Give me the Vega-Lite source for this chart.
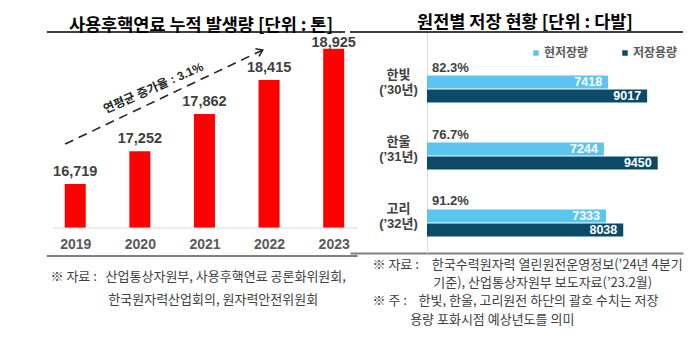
{
  "$schema": "https://vega.github.io/schema/vega-lite/v6.json",
  "autosize": {"type": "none"},
  "padding": {"left": 38, "top": 32, "right": 662, "bottom": 318},
  "bounds": "flush",
  "spacing": 0,
  "config": {
    "view": {"stroke": null},
    "font": "Liberation Sans, Noto Sans CJK KR"
  },
  "datasets": {
    "production": [
      {"year": 2019, "tons": 16719},
      {"year": 2020, "tons": 17252},
      {"year": 2021, "tons": 17862},
      {"year": 2022, "tons": 18415},
      {"year": 2023, "tons": 18925}
    ],
    "trend": [
      {"year": 2018.843, "v": 17371},
      {"year": 2021.902, "v": 18906}
    ],
    "trendHead": [
      {"year": 2021.902, "v": 18906}
    ],
    "trendLabel": [
      {"year": 2020.209, "v": 18286, "label": "연평균 증가율 : 3.1%"}
    ],
    "baseBand": [
      {"from": 2018.651, "to": 2023.37, "lo": 15992, "hi": 16008}
    ],
    "topBand": [
      {"from": 2018.561, "to": 2023.175, "lo": 19188, "hi": 19212}
    ],
    "bottomBand": [
      {"from": 2018.561, "to": 2023.37, "lo": 15527, "hi": 15559}
    ],
    "storage": [
      {"plant": "한빛|(’30년)", "series": "현저장량", "bundles": 7418},
      {"plant": "한빛|(’30년)", "series": "저장용량", "bundles": 9017},
      {"plant": "한울|(’31년)", "series": "현저장량", "bundles": 7244},
      {"plant": "한울|(’31년)", "series": "저장용량", "bundles": 9450},
      {"plant": "고리|(’32년)", "series": "현저장량", "bundles": 7333},
      {"plant": "고리|(’32년)", "series": "저장용량", "bundles": 8038}
    ],
    "ratio": [
      {"plant": "한빛|(’30년)", "ratio": "82.3%"},
      {"plant": "한울|(’31년)", "ratio": "76.7%"},
      {"plant": "고리|(’32년)", "ratio": "91.2%"}
    ],
    "rightTopBand": [
      {"from": -3154, "to": 10486, "lo": 0.9966, "hi": 1.0034}
    ]
  },
  "hconcat": [
    {
      "width": 312,
      "height": 196,
      "title": {
        "text": "사용후핵연료 누적 발생량 [단위 : 톤]",
        "font": "Noto Sans CJK KR",
        "fontSize": 17.5,
        "fontWeight": "bold",
        "color": "#000000",
        "anchor": "middle",
        "frame": "group",
        "dx": 7,
        "offset": -3
      },
      "layer": [
        {
          "data": {"name": "production"},
          "mark": {"type": "bar", "color": "#ff0000", "width": 21, "clip": false},
          "encoding": {
            "x": {
              "field": "year",
              "type": "quantitative",
              "scale": {"domain": [2018.501, 2023.175], "zero": false, "nice": false},
              "axis": {
                "orient": "bottom",
                "values": [2019, 2020, 2021, 2022, 2023],
                "format": "d",
                "labelAngle": 0,
                "labelFlush": false,
                "ticks": false,
                "domain": false,
                "grid": false,
                "labelFontSize": 14,
                "labelFontWeight": "bold",
                "labelColor": "#595959",
                "labelPadding": 9,
                "title": [
                  "※ 자료 :\u00a0\u00a0\u00a0산업통상자원부, 사용후핵연료 공론화위원회,",
                  "\u200b\u3000\u3000\u3000\u3000\u00a0\u00a0한국원자력산업회의, 원자력안전위원회"
                ],
                "titleFont": "Noto Sans CJK KR",
                "titleFontSize": 13,
                "titleFontWeight": "normal",
                "titleColor": "#404040",
                "titleAlign": "left",
                "titleAnchor": "start",
                "titleBaseline": "top",
                "titleX": 12,
                "titleY": 42,
                "titleLineHeight": 23,
                "titleLimit": 1000
              }
            },
            "y": {
              "field": "tons",
              "type": "quantitative",
              "scale": {"domain": [16000, 19200], "zero": false, "nice": false},
              "axis": null
            },
            "y2": {"datum": 16000}
          }
        },
        {
          "data": {"name": "production"},
          "transform": [{"filter": "datum.year < 2023"}],
          "mark": {"type": "text", "baseline": "alphabetic", "dy": -8, "fontSize": 14.5, "fontWeight": "bold", "color": "#404040", "clip": false},
          "encoding": {
            "x": {"field": "year", "type": "quantitative"},
            "y": {"field": "tons", "type": "quantitative", "axis": null},
            "text": {"field": "tons", "type": "quantitative", "format": ","}
          }
        },
        {
          "data": {"name": "production"},
          "transform": [{"filter": "datum.year == 2023"}],
          "mark": {"type": "text", "baseline": "alphabetic", "dy": -2, "fontSize": 14.5, "fontWeight": "bold", "color": "#404040", "clip": false},
          "encoding": {
            "x": {"field": "year", "type": "quantitative"},
            "y": {"field": "tons", "type": "quantitative", "axis": null},
            "text": {"field": "tons", "type": "quantitative", "format": ","}
          }
        },
        {
          "data": {"name": "baseBand"},
          "mark": {"type": "rect", "color": "#d9d9d9", "clip": false},
          "encoding": {
            "x": {"field": "from", "type": "quantitative"},
            "x2": {"field": "to"},
            "y": {"field": "lo", "type": "quantitative", "axis": null},
            "y2": {"field": "hi"}
          }
        },
        {
          "data": {"name": "topBand"},
          "mark": {"type": "rect", "color": "#000000", "clip": false},
          "encoding": {
            "x": {"field": "from", "type": "quantitative"},
            "x2": {"field": "to"},
            "y": {"field": "lo", "type": "quantitative", "axis": null},
            "y2": {"field": "hi"}
          }
        },
        {
          "data": {"name": "bottomBand"},
          "mark": {"type": "rect", "color": "#7f7f7f", "clip": false},
          "encoding": {
            "x": {"field": "from", "type": "quantitative"},
            "x2": {"field": "to"},
            "y": {"field": "lo", "type": "quantitative", "axis": null},
            "y2": {"field": "hi"}
          }
        },
        {
          "data": {"name": "trend"},
          "mark": {"type": "line", "color": "#262626", "strokeWidth": 1.6, "strokeDash": [9, 6], "clip": false},
          "encoding": {
            "x": {"field": "year", "type": "quantitative"},
            "y": {"field": "v", "type": "quantitative", "axis": null}
          }
        },
        {
          "data": {"name": "trendHead"},
          "mark": {"type": "point", "shape": "M-1,-0.7L0,0L-1,0.7", "filled": false, "stroke": "#262626", "strokeWidth": 1.6, "size": 150, "angle": 335.3, "opacity": 1, "clip": false},
          "encoding": {
            "x": {"field": "year", "type": "quantitative"},
            "y": {"field": "v", "type": "quantitative", "axis": null}
          }
        },
        {
          "data": {"name": "trendLabel"},
          "mark": {"type": "text", "angle": 336, "align": "center", "baseline": "middle", "fontSize": 12, "fontWeight": "bold", "color": "#262626", "clip": false},
          "encoding": {
            "x": {"field": "year", "type": "quantitative"},
            "y": {"field": "v", "type": "quantitative", "axis": null},
            "text": {"field": "label"}
          }
        }
      ]
    },
    {
      "width": 333,
      "height": 221,
      "title": {
        "text": "원전별 저장 현황 [단위 : 다발]",
        "font": "Noto Sans CJK KR",
        "fontSize": 17.5,
        "fontWeight": "bold",
        "color": "#000000",
        "anchor": "middle",
        "frame": "group",
        "dx": 8.5,
        "offset": 0
      },
      "resolve": {"scale": {"y": "independent"}},
      "layer": [
        {
          "layer": [
            {
              "data": {"name": "storage"},
              "mark": {"type": "bar", "clip": false},
              "encoding": {
                "y": {
                  "field": "plant",
                  "type": "nominal",
                  "scale": {
                    "domain": ["한빛|(’30년)", "한울|(’31년)", "고리|(’32년)"],
                    "paddingInner": 0.597,
                    "paddingOuter": 0.448,
                    "align": 0.725
                  },
                  "axis": {
                    "orient": "left",
                    "offset": -77,
                    "domainColor": "#d9d9d9",
                    "domainWidth": 1,
                    "ticks": false,
                    "grid": false,
                    "title": null,
                    "labelExpr": "split(datum.label, '|')",
                    "labelAlign": "center",
                    "labelBaseline": "middle",
                    "labelPadding": 29,
                    "labelOffset": -14,
                    "labelFontSize": 13,
                    "labelFontWeight": "bold",
                    "labelColor": "#404040",
                    "labelLineHeight": 15
                  }
                },
                "yOffset": {
                  "field": "series",
                  "type": "nominal",
                  "scale": {"domain": ["현저장량", "저장용량"], "paddingInner": 0.06, "paddingOuter": 0}
                },
                "x": {
                  "field": "bundles",
                  "type": "quantitative",
                  "scale": {"domain": [-3154, 10486], "zero": false, "nice": false},
                  "axis": {
                    "orient": "bottom",
                    "labels": false,
                    "ticks": false,
                    "grid": false,
                    "domainColor": "#7f7f7f",
                    "domainWidth": 2,
                    "title": [
                      "※ 자료 :\u3000한국수력원자력 열린원전운영정보(’24년 4분기",
                      "\u200b\u3000\u3000\u3000\u3000\u00a0\u00a0\u00a0기준), 산업통상자원부 보도자료(’23.2월)",
                      "※ 주 : \u00a0\u00a0\u00a0한빛, 한울, 고리원전 하단의 괄호 수치는 저장",
                      "\u200b\u3000\u3000\u00a0\u00a0\u00a0\u00a0용량 포화시점 예상년도를 의미"
                    ],
                    "titleFont": "Noto Sans CJK KR",
                    "titleFontSize": 13,
                    "titleFontWeight": "normal",
                    "titleColor": "#404040",
                    "titleAlign": "left",
                    "titleAnchor": "start",
                    "titleBaseline": "top",
                    "titleX": 22,
                    "titleY": 5,
                    "titleLineHeight": 18.4,
                    "titleLimit": 1000
                  }
                },
                "x2": {"datum": 0},
                "color": {
                  "field": "series",
                  "type": "nominal",
                  "scale": {"domain": ["현저장량", "저장용량"], "range": ["#5bc5f0", "#0b4a68"]},
                  "legend": {
                    "orient": "none",
                    "legendX": 492,
                    "legendY": 15,
                    "direction": "horizontal",
                    "title": null,
                    "symbolType": "square",
                    "symbolSize": 30,
                    "symbolStrokeWidth": 0,
                    "labelFontSize": 12,
                    "labelFontWeight": "bold",
                    "labelColor": "#595959",
                    "labelOffset": 2,
                    "columnPadding": 30
                  }
                }
              }
            },
            {
              "data": {"name": "storage"},
              "mark": {"type": "text", "align": "right", "baseline": "middle", "dx": -6, "fontSize": 12.5, "fontWeight": "bold", "color": "#ffffff", "clip": false},
              "encoding": {
                "y": {"field": "plant", "type": "nominal"},
                "yOffset": {"field": "series", "type": "nominal"},
                "x": {"field": "bundles", "type": "quantitative"},
                "text": {"field": "bundles", "type": "quantitative", "format": "d"}
              }
            },
            {
              "data": {"name": "ratio"},
              "mark": {"type": "text", "align": "left", "baseline": "alphabetic", "dx": 5, "dy": -4, "fontSize": 13, "fontWeight": "bold", "color": "#404040", "clip": false},
              "encoding": {
                "y": {"field": "plant", "type": "nominal", "bandPosition": 0},
                "x": {"datum": 0, "type": "quantitative"},
                "text": {"field": "ratio"}
              }
            }
          ]
        },
        {
          "data": {"name": "rightTopBand"},
          "mark": {"type": "rect", "color": "#000000", "clip": false},
          "encoding": {
            "x": {"field": "from", "type": "quantitative"},
            "x2": {"field": "to"},
            "y": {"field": "lo", "type": "quantitative", "scale": {"domain": [0, 1]}, "axis": null},
            "y2": {"field": "hi"}
          }
        }
      ]
    }
  ]
}
